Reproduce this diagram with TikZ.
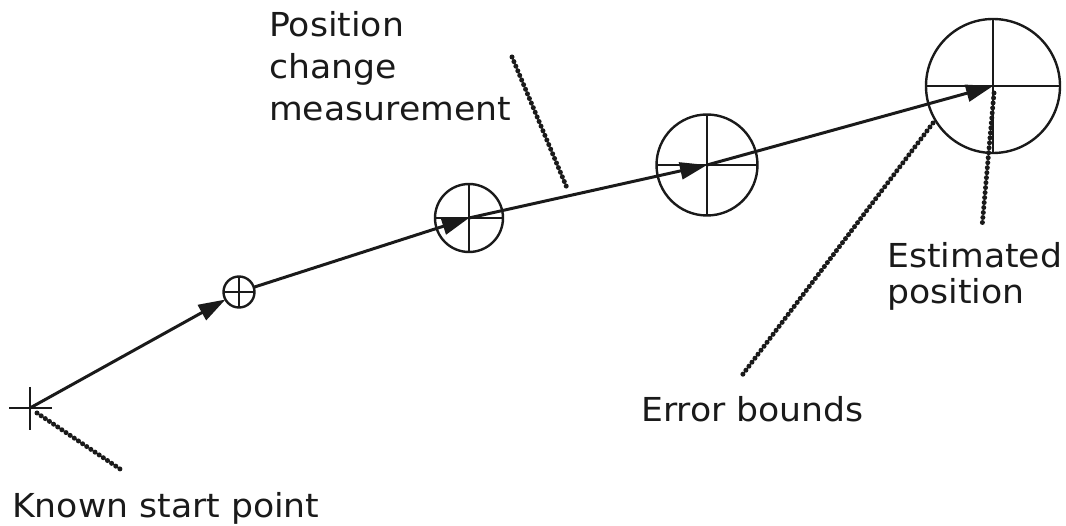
\documentclass[tikz,border=0pt]{standalone}
\usepackage{fontspec}
\setmainfont[FakeStretch=1.05]{DejaVu Sans}
\usetikzlibrary{arrows.meta}
\definecolor{ink}{HTML}{1A1A1A}
\begin{document}
\begin{tikzpicture}[x=1pt,y=-1pt,
  lbl/.style={font=\fontsize{33}{42}\selectfont, inner sep=0pt, anchor=base west, align=left, text=ink},
  err/.style={circle, draw=ink, line width=2.4pt, inner sep=0pt, outer sep=0pt, minimum size=#1},
  hair/.style={draw=ink, line width=2pt},
  track/.style={draw=ink, line width=3pt, -{Triangle[length=27pt,width=17pt]}},
  leader/.style={draw=ink, line width=5pt, dash pattern=on 0pt off 5pt, line cap=round}]
\useasboundingbox (0,0) rectangle (1066,526);

% start point
\coordinate (s) at (30,408);
\draw[hair] ([xshift=-21pt]s) -- ([xshift=22pt]s) ([yshift=21pt]s) -- ([yshift=-22pt]s);

% error circles
\node[err=31pt] (c1) at (239,292) {};
\node[err=68pt] (c2) at (469,218) {};
\node[err=101pt] (c3) at (707,165) {};
\node[err=134pt] (c4) at (993,86) {};
\foreach \c in {c1,c2,c3,c4}
  \draw[hair] (\c.north) -- (\c.south) (\c.west) -- (\c.east);

% track
\draw[track] (s) -- (c1);
\draw[track] (c1) -- (c2.center);
\draw[track] (c2.center) -- (c3.center);
\draw[track] (c3.center) -- (c4.center);

% labels (base anchor = baseline of the last line)
\node[lbl] (lpos) at (269,121) {Position\\change\\measurement};
\node[lbl] (lstart) at (12,518) {Known start point};
\node[lbl] (lerr) at (641,422) {Error bounds};
\node[lbl, font=\fontsize{33}{36}\selectfont] (lest) at (887,304) {Estimated\\position};

% leaders
\coordinate (p1a) at (37,413);  \coordinate (p1b) at (123,471);
\coordinate (p2a) at (512,57);  \coordinate (p2b) at (567,188);
\coordinate (p3a) at (933,123); \coordinate (p3b) at (740,378);
\coordinate (p4a) at (994,93);  \coordinate (p4b) at (982,227);
\draw[leader] (p1a) -- (p1b);
\draw[leader] (p2a) -- (p2b);
\draw[leader] (p3a) -- (p3b);
\draw[leader] (p4a) -- (p4b);
\end{tikzpicture}
\end{document}
